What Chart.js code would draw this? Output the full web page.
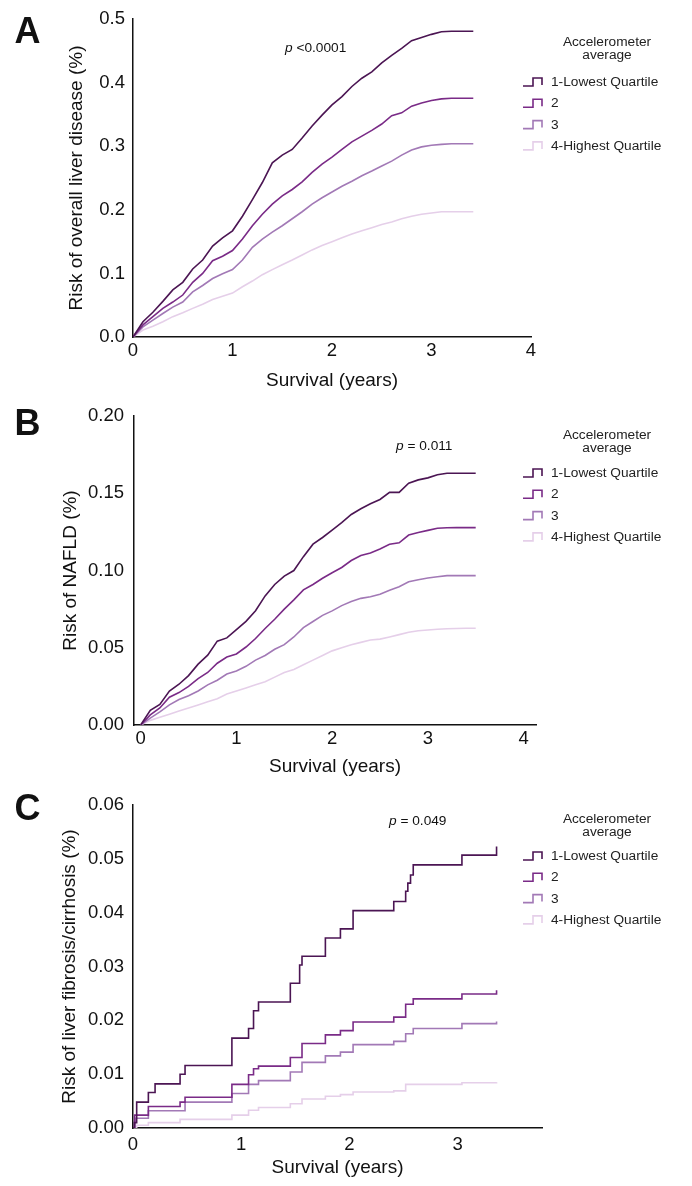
<!DOCTYPE html>
<html>
<head>
<meta charset="utf-8">
<script src="https://cdn.jsdelivr.net/npm/chart.js@4.4.1/dist/chart.umd.min.js"></script>
<style>
  body { margin: 0; background: #fff; }
  canvas { position: absolute; left: 0; display: block; }
</style>
</head>
<body>
<canvas id="chartA" width="692" height="395" style="top:0px"></canvas>
<canvas id="chartB" width="692" height="390" style="top:395px"></canvas>
<canvas id="chartC" width="692" height="401" style="top:785px"></canvas>
<script>
const quartiles = ["1-Lowest Quartile", "2", "3", "4-Highest Quartile"];
const lineColors = ["#4b1553", "#7a2b87", "#a279b6", "#e5cfe9"];

// Panel A: overall liver disease
const timesA = [0, 0.1, 0.2, 0.3, 0.4, 0.5, 0.6, 0.7, 0.8, 0.9, 1.0, 1.1, 1.2, 1.3, 1.4, 1.5, 1.6, 1.7,
  1.8, 1.9, 2.0, 2.1, 2.2, 2.3, 2.4, 2.5, 2.6, 2.7, 2.8, 2.9, 3.0, 3.1, 3.2, 3.3, 3.4, 3.42];
const riskA_Q1 = [0, 0.024, 0.039, 0.056, 0.074, 0.086, 0.107, 0.121, 0.143, 0.156, 0.167, 0.190, 0.216,
  0.243, 0.274, 0.286, 0.295, 0.313, 0.332, 0.349, 0.365, 0.378, 0.394, 0.407, 0.417, 0.431, 0.443, 0.454,
  0.466, 0.471, 0.476, 0.480, 0.481, 0.481, 0.481, 0.481];
const riskA_Q2 = [0, 0.019, 0.032, 0.045, 0.055, 0.066, 0.086, 0.100, 0.120, 0.127, 0.136, 0.154, 0.175,
  0.193, 0.209, 0.222, 0.232, 0.244, 0.259, 0.272, 0.283, 0.295, 0.307, 0.316, 0.325, 0.335, 0.348, 0.3526,
  0.363, 0.368, 0.372, 0.3745, 0.3755, 0.3755, 0.3755, 0.3755];
const riskA_Q3 = [0, 0.016, 0.0266, 0.037, 0.047, 0.055, 0.071, 0.081, 0.092, 0.0995, 0.106, 0.121, 0.141,
  0.154, 0.165, 0.175, 0.186, 0.197, 0.209, 0.219, 0.228, 0.237, 0.245, 0.2536, 0.261, 0.269, 0.2766, 0.286,
  0.294, 0.299, 0.3016, 0.303, 0.304, 0.304, 0.304, 0.304];
const riskA_Q4 = [0, 0.011, 0.017, 0.024, 0.032, 0.038, 0.045, 0.0516, 0.059, 0.064, 0.069, 0.079, 0.088,
  0.098, 0.106, 0.1135, 0.121, 0.129, 0.137, 0.144, 0.150, 0.156, 0.162, 0.167, 0.172, 0.177, 0.181, 0.186,
  0.190, 0.193, 0.195, 0.197, 0.197, 0.197, 0.197, 0.197];

// Panel B: NAFLD
const timesB = [0, 0.1, 0.2, 0.3, 0.4, 0.5, 0.6, 0.7, 0.8, 0.9, 1.0, 1.1, 1.2, 1.3, 1.4, 1.5, 1.6, 1.7,
  1.8, 1.9, 2.0, 2.1, 2.2, 2.3, 2.4, 2.5, 2.6, 2.7, 2.8, 2.9, 3.0, 3.1, 3.2, 3.3, 3.4, 3.5];
const riskB_Q1 = [0, 0.0095, 0.0133, 0.022, 0.0264, 0.032, 0.0394, 0.0452, 0.0543, 0.0564, 0.0618, 0.0671,
  0.074, 0.0836, 0.091, 0.0964, 0.100, 0.109, 0.1171, 0.1214, 0.1262, 0.131, 0.1363, 0.140, 0.1433, 0.146,
  0.1506, 0.1506, 0.1565, 0.1587, 0.160, 0.162, 0.163, 0.163, 0.163, 0.163];
const riskB_Q2 = [0, 0.0065, 0.011, 0.018, 0.021, 0.025, 0.030, 0.034, 0.040, 0.044, 0.046, 0.0505, 0.056,
  0.0625, 0.0685, 0.075, 0.081, 0.0875, 0.091, 0.095, 0.0986, 0.102, 0.1065, 0.1097, 0.1114, 0.114, 0.117,
  0.118, 0.123, 0.1246, 0.126, 0.1274, 0.1277, 0.1278, 0.1278, 0.1278];
const riskB_Q3 = [0, 0.0045, 0.0085, 0.013, 0.0165, 0.019, 0.022, 0.026, 0.029, 0.033, 0.035, 0.038, 0.042,
  0.045, 0.049, 0.052, 0.057, 0.063, 0.067, 0.071, 0.0739, 0.0773, 0.0799, 0.082, 0.083, 0.0846, 0.0873,
  0.0895, 0.0927, 0.0941, 0.0952, 0.096, 0.0967, 0.0967, 0.0967, 0.0967];
const riskB_Q4 = [0, 0.003, 0.005, 0.007, 0.009, 0.011, 0.013, 0.015, 0.017, 0.020, 0.022, 0.024, 0.026,
  0.028, 0.031, 0.034, 0.036, 0.039, 0.042, 0.045, 0.048, 0.050, 0.052, 0.0535, 0.055, 0.0556, 0.057, 0.0585,
  0.060, 0.061, 0.0615, 0.062, 0.0623, 0.0625, 0.0626, 0.0626];

// Panel C: liver fibrosis/cirrhosis (step times differ per group)
const timesC_Q1 = [0, 0.012, 0.034, 0.142, 0.204, 0.435, 0.481, 0.914, 1.068, 1.114, 1.16, 1.454, 1.54,
  1.562, 1.778, 1.917, 2.034, 2.41, 2.52, 2.54, 2.565, 2.59, 3.04, 3.36];
const riskC_Q1 = [0, 0.001, 0.0048, 0.0066, 0.0082, 0.010, 0.0116, 0.0167, 0.0185, 0.0218, 0.0234, 0.0269,
  0.0303, 0.0319, 0.0353, 0.037, 0.0404, 0.0421, 0.044, 0.0455, 0.047, 0.0489, 0.0507, 0.0523];
const timesC_Q2 = [0, 0.015, 0.142, 0.435, 0.481, 0.914, 1.068, 1.114, 1.16, 1.454, 1.562, 1.778, 1.917,
  2.034, 2.41, 2.52, 2.59, 3.04, 3.36];
const riskC_Q2 = [0, 0.0024, 0.004, 0.0048, 0.0057, 0.0081, 0.0099, 0.011, 0.0115, 0.0131, 0.0157, 0.0173,
  0.0181, 0.0197, 0.0206, 0.023, 0.024, 0.0249, 0.0256];
const timesC_Q3 = [0, 0.02, 0.142, 0.481, 0.914, 1.068, 1.16, 1.454, 1.562, 1.778, 1.917, 2.034, 2.41, 2.52,
  2.59, 3.04, 3.36];
const riskC_Q3 = [0, 0.0018, 0.0032, 0.0048, 0.0064, 0.0081, 0.0088, 0.0104, 0.0122, 0.0134, 0.0141, 0.0155,
  0.0161, 0.0175, 0.0185, 0.0194, 0.0198];
const timesC_Q4 = [0, 0.034, 0.142, 0.435, 0.914, 1.068, 1.16, 1.454, 1.562, 1.778, 1.917, 2.034, 2.41, 2.52,
  3.04, 3.36];
const riskC_Q4 = [0, 0.0005, 0.001, 0.0016, 0.0024, 0.0033, 0.0038, 0.0045, 0.0054, 0.0059, 0.0062, 0.0067,
  0.0069, 0.0081, 0.0084, 0.0085];

const FONT = '"Liberation Sans", Arial, sans-serif';
Chart.defaults.font.family = FONT;
Chart.defaults.color = "#111";

function toPoints(times, values) {
  return times.map((t, i) => ({ x: t, y: values[i] }));
}

// letter, p value and the legend on the right
const panelDecor = {
  id: "panelDecor",
  afterDraw(chart, args, opts) {
    const ctx = chart.ctx;
    ctx.save();
    ctx.fillStyle = "#111";
    ctx.textBaseline = "alphabetic";
    ctx.font = "bold 36px " + FONT;
    ctx.textAlign = "center";
    ctx.fillText(opts.letter, 27.5, opts.letterY);

    ctx.textAlign = "left";
    ctx.font = "italic 13.7px " + FONT;
    ctx.fillText("p", opts.pX, opts.pY);
    const pw = ctx.measureText("p").width;
    ctx.font = "13.7px " + FONT;
    ctx.fillText(opts.pText, opts.pX + pw, opts.pY);

    ctx.fillStyle = "#222";
    ctx.textAlign = "center";
    ctx.fillText("Accelerometer", 607, opts.legTitleY);
    ctx.fillText("average", 607, opts.legTitleY + 13);
    ctx.textAlign = "left";
    chart.data.datasets.forEach((ds, i) => {
      const yb = opts.legItemY + i * 21.3;
      ctx.strokeStyle = ds.borderColor;
      ctx.lineWidth = 1.6;
      ctx.beginPath();
      ctx.moveTo(523, yb);
      ctx.lineTo(533, yb);
      ctx.lineTo(533, yb - 8);
      ctx.lineTo(542, yb - 8);
      ctx.lineTo(542, yb - 1);
      ctx.stroke();
      ctx.fillText(ds.label, 551, yb);
    });
    ctx.restore();
  }
};

function drawPanel(id, cfg) {
  const datasets = cfg.series.map((s, i) => ({
    label: quartiles[i],
    data: toPoints(s[0], s[1]),
    borderColor: lineColors[i],
    borderWidth: 1.6,
    pointRadius: 0,
    fill: false,
    tension: 0,
    stepped: cfg.stepped
  }));

  new Chart(document.getElementById(id), {
    type: "line",
    data: { datasets: datasets },
    options: {
      responsive: false,
      animation: false,
      devicePixelRatio: 1,
      layout: { padding: cfg.padding },
      plugins: {
        legend: { display: false },
        tooltip: { enabled: false },
        panelDecor: cfg.decor
      },
      scales: {
        x: {
          type: "linear",
          min: cfg.xMin,
          max: cfg.xMax,
          grid: { display: false, drawTicks: false },
          border: { display: true, color: "#111", width: 1.5 },
          ticks: { stepSize: 1, includeBounds: false, padding: cfg.xTickPad, font: { size: 18.5 } },
          title: { display: true, text: "Survival (years)", font: { size: 19 }, padding: { top: 0, bottom: 0 } },
          afterFit: (scale) => { scale.height = cfg.xAxisH; }
        },
        y: {
          min: 0,
          max: cfg.yMax,
          grid: { display: false, drawTicks: false },
          border: { display: true, color: "#111", width: 1.5 },
          ticks: {
            stepSize: cfg.yStep,
            padding: cfg.yTickPad,
            font: { size: 18.5 },
            callback: (v) => v.toFixed(cfg.yDecimals)
          },
          title: { display: true, text: cfg.yTitle, font: { size: 19 }, padding: { top: cfg.yTitlePad, bottom: 0 } },
          afterFit: (scale) => { scale.width = cfg.yAxisW; }
        }
      }
    },
    plugins: [panelDecor]
  });
}

drawPanel("chartA", {
  series: [[timesA, riskA_Q1], [timesA, riskA_Q2], [timesA, riskA_Q3], [timesA, riskA_Q4]],
  stepped: false,
  padding: { top: 17, right: 161, bottom: 3, left: 0 },
  xMin: 0, xMax: 4, xTickPad: 3, xAxisH: 55,
  yMax: 0.5, yStep: 0.1, yDecimals: 1, yTickPad: 8, yAxisW: 133, yTitlePad: 65,
  yTitle: "Risk of overall liver disease (%)",
  decor: { letter: "A", letterY: 43, pX: 285, pY: 52, pText: " <0.0001", legTitleY: 46, legItemY: 86 }
});

drawPanel("chartB", {
  series: [[timesB, riskB_Q1], [timesB, riskB_Q2], [timesB, riskB_Q3], [timesB, riskB_Q4]],
  stepped: false,
  padding: { top: 17, right: 156, bottom: 7, left: 0 },
  xMin: -0.07, xMax: 4.13, xTickPad: 3, xAxisH: 53,
  yMax: 0.2, yStep: 0.05, yDecimals: 2, yTickPad: 10, yAxisW: 134, yTitlePad: 59.5,
  yTitle: "Risk of NAFLD (%)",
  decor: { letter: "B", letterY: 40, pX: 396, pY: 55, pText: " = 0.011", legTitleY: 44, legItemY: 82 }
});

drawPanel("chartC", {
  series: [[timesC_Q1, riskC_Q1], [timesC_Q2, riskC_Q2], [timesC_Q3, riskC_Q3], [timesC_Q4, riskC_Q4]],
  stepped: true,
  padding: { top: 8, right: 150, bottom: 7, left: 0 },
  xMin: 0, xMax: 3.78, xTickPad: 6, xAxisH: 51,
  yMax: 0.06, yStep: 0.01, yDecimals: 2, yTickPad: 9, yAxisW: 133, yTitlePad: 58.5,
  yTitle: "Risk of liver fibrosis/cirrhosis (%)",
  decor: { letter: "C", letterY: 35, pX: 389, pY: 40, pText: " = 0.049", legTitleY: 38, legItemY: 75 }
});
</script>
</body>
</html>
